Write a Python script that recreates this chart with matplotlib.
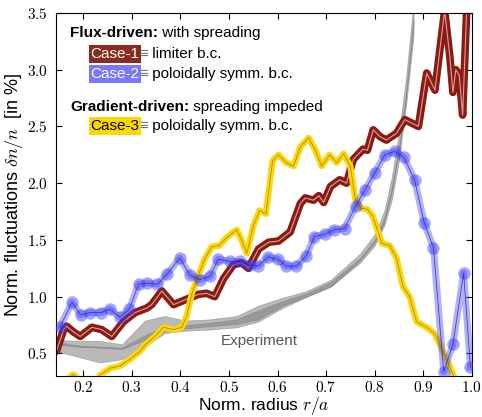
import matplotlib
matplotlib.use("Agg")
import matplotlib.pyplot as plt
from matplotlib.ticker import FuncFormatter, MultipleLocator

plt.rcParams['font.family'] = ['Liberation Sans', 'DejaVu Sans']
plt.rcParams['mathtext.fontset'] = 'cm'

# --- Experiment (two overlapping bands) ---
exp_x = [0.145, 0.19, 0.235, 0.28, 0.327, 0.368, 0.41, 0.46, 0.516, 0.56,
         0.61, 0.66, 0.71, 0.77, 0.80, 0.82, 0.835, 0.85, 0.865, 0.88]
exp_a_lo = [0.52, 0.47, 0.42, 0.45, 0.56, 0.68, 0.70, 0.71, 0.73, 0.78,
            0.90, 1.00, 1.09, 1.30, 1.45, 1.63, 1.85, 2.20, 2.70, 3.30]
exp_a_hi = [0.60, 0.57, 0.56, 0.55, 0.66, 0.74, 0.75, 0.77, 0.80, 0.88,
            0.96, 1.03, 1.13, 1.34, 1.50, 1.70, 1.96, 2.32, 2.82, 3.45]
exp_b_lo = [0.58, 0.56, 0.55, 0.54, 0.62, 0.70, 0.72, 0.74, 0.76, 0.80,
            0.92, 1.00, 1.09, 1.32, 1.48, 1.66, 1.92, 2.28, 2.78, 3.40]
exp_b_hi = [0.62, 0.61, 0.61, 0.58, 0.79, 0.83, 0.79, 0.80, 0.83, 0.92,
            0.99, 1.05, 1.15, 1.38, 1.55, 1.76, 2.05, 2.45, 2.95, 3.60]

# --- Case-1: flux-driven, limiter b.c. ---
case1_x = [0.145, 0.160, 0.166, 0.180, 0.194, 0.206, 0.218, 0.238, 0.259, 0.283,
           0.307, 0.331, 0.341, 0.362, 0.386, 0.403, 0.420, 0.437, 0.454, 0.471,
           0.489, 0.509, 0.526, 0.540, 0.561, 0.582, 0.602, 0.626, 0.647, 0.657,
           0.674, 0.685, 0.695, 0.709, 0.728, 0.742, 0.756, 0.776, 0.785, 0.797,
           0.811, 0.824, 0.845, 0.862, 0.876, 0.890, 0.907, 0.924, 0.944, 0.955,
           0.961, 0.967, 0.974, 0.981, 0.990]
case1_y = [0.52, 0.71, 0.74, 0.69, 0.65, 0.69, 0.73, 0.71, 0.65, 0.78,
           0.86, 0.90, 0.93, 1.05, 0.93, 0.96, 0.99, 1.02, 1.03, 1.00,
           1.16, 1.28, 1.30, 1.25, 1.42, 1.48, 1.49, 1.57, 1.82, 1.87,
           1.85, 1.89, 1.83, 1.97, 2.03, 2.00, 2.21, 2.30, 2.29, 2.47,
           2.41, 2.38, 2.44, 2.56, 2.53, 2.50, 2.97, 2.82, 3.52, 3.10,
           2.80, 3.00, 2.95, 2.60, 3.60]

# --- Case-2: flux-driven, poloidally symmetric b.c. ---
case2_x = [0.152, 0.177, 0.195, 0.214, 0.237, 0.255, 0.276, 0.295, 0.314, 0.332,
           0.353, 0.373, 0.399, 0.420, 0.440, 0.461, 0.478, 0.502, 0.522, 0.543,
           0.560, 0.581, 0.601, 0.618, 0.639, 0.659, 0.676, 0.697, 0.717, 0.738,
           0.761, 0.780, 0.800, 0.821, 0.841, 0.860, 0.882, 0.902, 0.921, 0.942,
           0.961, 0.983, 0.997]
case2_y = [0.73, 0.95, 0.84, 0.86, 0.86, 0.89, 0.82, 0.89, 1.11, 1.12,
           1.11, 1.20, 1.34, 1.19, 1.15, 1.18, 1.33, 1.31, 1.31, 1.28,
           1.27, 1.35, 1.33, 1.27, 1.27, 1.36, 1.53, 1.55, 1.59, 1.60,
           1.80, 1.94, 2.09, 2.25, 2.28, 2.23, 2.03, 1.65, 1.43, 0.34,
           0.58, 1.21, 0.38]

# --- Case-3: gradient-driven, poloidally symmetric b.c. ---
case3_x = [0.145, 0.165, 0.180, 0.195, 0.215, 0.235, 0.256, 0.276, 0.297, 0.317,
           0.331, 0.348, 0.365, 0.386, 0.403, 0.413, 0.424, 0.437, 0.451, 0.465,
           0.480, 0.495, 0.516, 0.526, 0.537, 0.550, 0.563, 0.576, 0.590, 0.602,
           0.618, 0.633, 0.647, 0.664, 0.678, 0.691, 0.707, 0.722, 0.736, 0.750,
           0.760, 0.771, 0.785, 0.796, 0.815, 0.831, 0.845, 0.858, 0.872, 0.886,
           0.907, 0.924, 0.938, 0.951, 0.962, 0.975]
case3_y = [0.20, 0.27, 0.315, 0.26, 0.20, 0.31, 0.37, 0.39, 0.45, 0.52,
           0.59, 0.65, 0.73, 0.71, 0.73, 0.83, 1.03, 1.19, 1.34, 1.44,
           1.45, 1.52, 1.59, 1.50, 1.38, 1.62, 1.76, 1.73, 2.20, 2.25,
           2.18, 2.15, 2.32, 2.40, 2.29, 2.15, 2.25, 2.18, 2.26, 2.15,
           1.86, 1.78, 1.77, 1.71, 1.47, 1.45, 1.34, 1.09, 1.00, 0.78,
           0.73, 0.67, 0.54, 0.42, 0.31, 0.15]

red = '#8b1a10'
blue = '#3a3aff'
gold = '#ffd700'

fig = plt.figure(figsize=(4.82, 4.17), dpi=100)
ax = fig.add_axes([0.116, 0.098, 0.863, 0.871])

# experiment bands
ax.fill_between(exp_x, exp_a_lo, exp_a_hi, color='gray', alpha=0.55, lw=0.5, edgecolor='#777777', zorder=1)
ax.fill_between(exp_x, exp_b_lo, exp_b_hi, color='gray', alpha=0.55, lw=0.5, edgecolor='#777777', zorder=1)

# case 1
ax.plot(case1_x, case1_y, color=red, lw=5.5, solid_capstyle='round', solid_joinstyle='round', zorder=2)
ax.plot(case1_x, case1_y, color='#d8a0a0', lw=0.8, zorder=2.1)

# case 3
ax.plot(case3_x, case3_y, color=gold, lw=4.5, solid_joinstyle='round', zorder=3)
ax.plot(case3_x, case3_y, color='#8a7a30', lw=0.6, alpha=0.8, zorder=3.1)

# case 2
ax.plot(case2_x, case2_y, color=blue, lw=5, alpha=0.4, solid_joinstyle='round', zorder=4)
ax.plot(case2_x, case2_y, 'o', color=blue, ms=9, alpha=0.45, mec='none', zorder=4.1)
ax.plot(case2_x, case2_y, color='#2a2a90', lw=0.6, alpha=0.8, zorder=4.2)

ax.text(0.563, 0.61, 'Experiment', color='#555555', fontsize=11, ha='center', va='center')

# legend-like annotation
fs = 11
t = ax.text(0.034, 0.945, 'Flux-driven:', transform=ax.transAxes, fontsize=fs,
            fontweight='bold', va='center', ha='left')
ax.annotate(' with spreading', xy=(1, 0), xycoords=t, va='bottom', fontsize=fs)

c1 = ax.text(0.083, 0.887, 'Case-1', transform=ax.transAxes, fontsize=fs, color='white',
             va='center', bbox=dict(boxstyle='square,pad=0.12', fc='#8b2a1e', ec='none'))
e1 = ax.annotate('\u2261', xy=(1, 0), xycoords=c1, va='bottom', fontsize=fs, color='#777777')
ax.annotate(' limiter b.c.', xy=(1, 0), xycoords=e1, va='bottom', fontsize=fs)

c2 = ax.text(0.083, 0.832, 'Case-2', transform=ax.transAxes, fontsize=fs, color='white',
             va='center', bbox=dict(boxstyle='square,pad=0.12', fc='#7777ff', ec='none'))
e2 = ax.annotate('\u2261', xy=(1, 0), xycoords=c2, va='bottom', fontsize=fs, color='#777777')
ax.annotate(' poloidally symm. b.c.', xy=(1, 0), xycoords=e2, va='bottom', fontsize=fs)

t2 = ax.text(0.034, 0.741, 'Gradient-driven:', transform=ax.transAxes, fontsize=fs,
             fontweight='bold', va='center', ha='left')
ax.annotate(' spreading impeded', xy=(1, 0), xycoords=t2, va='bottom', fontsize=fs)

c3 = ax.text(0.083, 0.689, 'Case-3', transform=ax.transAxes, fontsize=fs, color='black',
             va='center', bbox=dict(boxstyle='square,pad=0.12', fc=gold, ec='none'))
e3 = ax.annotate('\u2261', xy=(1, 0), xycoords=c3, va='bottom', fontsize=fs, color='#777777')
ax.annotate(' poloidally symm. b.c.', xy=(1, 0), xycoords=e3, va='bottom', fontsize=fs)

ax.set_xlim(0.144, 1.0)
ax.set_ylim(0.3, 3.5)
ax.xaxis.set_major_locator(MultipleLocator(0.1))
ax.yaxis.set_major_locator(MultipleLocator(0.5))
fmt = FuncFormatter(lambda v, p: f'${v:.1f}$')
ax.xaxis.set_major_formatter(fmt)
ax.yaxis.set_major_formatter(fmt)
ax.tick_params(direction='in', top=True, right=True, length=4, labelsize=11)
ax.tick_params(axis='x', pad=3)
ax.tick_params(axis='y', pad=6)

ax.set_xlabel('Norm. radius $r/a$', fontsize=12.5, labelpad=0)
ax.set_ylabel('Norm. fluctuations $\\delta n/n$  [in %]', fontsize=13, labelpad=1)

plt.savefig('out.png', dpi=100)
